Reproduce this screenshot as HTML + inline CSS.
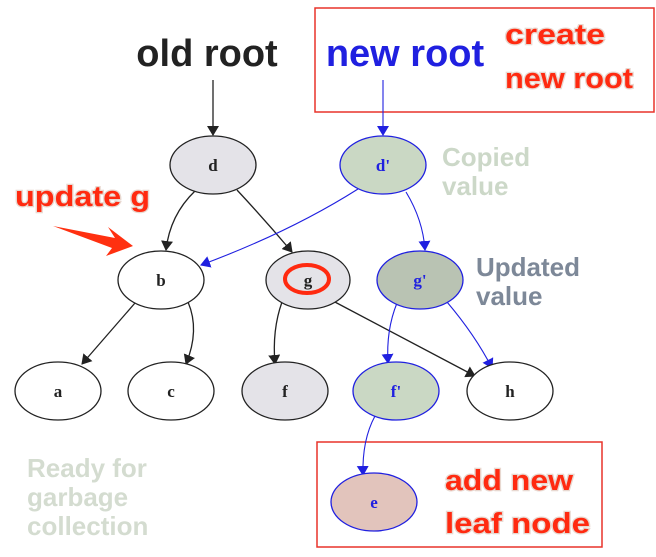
<!DOCTYPE html>
<html><head><meta charset="utf-8"><style>
html,body{margin:0;padding:0;background:#fff;}
svg{display:block;}
.n{font-family:"Liberation Serif",serif;font-size:17px;font-weight:bold;text-anchor:middle;}
.c{font-family:"Liberation Sans",sans-serif;font-weight:bold;}
.r{font-family:"Liberation Sans",sans-serif;font-weight:bold;fill:#ff2a10;stroke:#e8d8d0;stroke-width:2.5;paint-order:stroke;}
</style></head><body>
<svg width="656" height="557" viewBox="0 0 656 557" xmlns="http://www.w3.org/2000/svg">
<defs>
<marker id="ak" markerWidth="10" markerHeight="12" refX="9" refY="6" orient="auto" markerUnits="userSpaceOnUse"><path d="M0,0 L10,6 L0,12 z" fill="#222"/></marker>
<marker id="ab" markerWidth="10" markerHeight="12" refX="9" refY="6" orient="auto" markerUnits="userSpaceOnUse"><path d="M0,0 L10,6 L0,12 z" fill="#2020e0"/></marker>
</defs>
<rect x="315" y="8" width="339" height="104" fill="none" stroke="#e8332a" stroke-width="1.5"/>
<rect x="317" y="442" width="285" height="105" fill="none" stroke="#e8332a" stroke-width="1.5"/>
<text x="207" y="66" class="c" font-size="38" text-anchor="middle" fill="#222">old root</text>
<text x="405" y="66" class="c" font-size="38" text-anchor="middle" fill="#2020e0">new root</text>
<text x="505" y="44" class="r" font-size="29" textLength="100" lengthAdjust="spacingAndGlyphs">create</text>
<text x="505" y="88" class="r" font-size="29" textLength="128" lengthAdjust="spacingAndGlyphs">new root</text>
<text x="15" y="206" class="r" font-size="29" textLength="135" lengthAdjust="spacingAndGlyphs">update g</text>
<path d="M53,226 L115,238 L108,227 L133,246 L106,256 L112,248 Z" fill="#ff3010"/>
<text x="442" y="166" class="c" font-size="26" fill="#ccd8c8">Copied</text>
<text x="442" y="195" class="c" font-size="26" fill="#ccd8c8">value</text>
<text x="476" y="276" class="c" font-size="26" fill="#7d8898">Updated</text>
<text x="476" y="305" class="c" font-size="26" fill="#7d8898">value</text>
<text x="27" y="477" class="c" font-size="26" fill="#d4dcd0">Ready for</text>
<text x="27" y="506" class="c" font-size="26" fill="#d4dcd0">garbage</text>
<text x="27" y="535" class="c" font-size="26" fill="#d4dcd0">collection</text>
<text x="445" y="490" class="r" font-size="29" textLength="128" lengthAdjust="spacingAndGlyphs">add new</text>
<text x="445" y="533" class="r" font-size="29" textLength="145" lengthAdjust="spacingAndGlyphs">leaf node</text>
<g fill="none" stroke="#222" stroke-width="1.3" marker-end="url(#ak)">
<path d="M213,80 L213,135"/>
<path d="M195,191 Q170,215 166,250"/>
<path d="M237,190 Q265,220 292,252"/>
<path d="M135,303 L82,364"/>
<path d="M188,302 Q200,330 186,364"/>
<path d="M282,302 Q272,330 275,364"/>
<path d="M333,301 L475,376"/>
</g>
<g fill="none" stroke="#2020e0" stroke-width="1.1" marker-end="url(#ab)">
<path d="M383,80 L383,135"/>
<path d="M358,189 Q290,232 201,265"/>
<path d="M406,192 Q423,220 425,250"/>
<path d="M397,303 Q386,330 388,363"/>
<path d="M447,302 Q475,335 492,368"/>
<path d="M375,416 Q362,440 363,475"/>
</g>
<g stroke-width="1.3">
<ellipse cx="213" cy="165" rx="43" ry="29" fill="#e4e3e8" stroke="#222"/>
<ellipse cx="383" cy="165" rx="43" ry="29" fill="#cad8c4" stroke="#2020e0"/>
<ellipse cx="161" cy="280" rx="43" ry="29" fill="#fff" stroke="#222"/>
<ellipse cx="308" cy="280" rx="42" ry="29" fill="#e4e3e8" stroke="#222"/>
<ellipse cx="420" cy="280" rx="43" ry="29" fill="#b9c3b3" stroke="#2020e0"/>
<ellipse cx="58" cy="391" rx="43" ry="29" fill="#fff" stroke="#222"/>
<ellipse cx="171" cy="391" rx="43" ry="29" fill="#fff" stroke="#222"/>
<ellipse cx="285" cy="391" rx="43" ry="29" fill="#e4e3e8" stroke="#222"/>
<ellipse cx="396" cy="391" rx="43" ry="29" fill="#cad8c4" stroke="#2020e0"/>
<ellipse cx="510" cy="391" rx="43" ry="29" fill="#fff" stroke="#222"/>
<ellipse cx="374" cy="502" rx="43" ry="29" fill="#e2c4bc" stroke="#2020e0"/>
<ellipse cx="307" cy="279" rx="22" ry="14" fill="none" stroke="#ff2a10" stroke-width="4"/>
</g>
<g class="n">
<text x="213" y="171" fill="#222">d</text>
<text x="383" y="171" fill="#2020e0">d'</text>
<text x="161" y="286" fill="#222">b</text>
<text x="308" y="286" fill="#222">g</text>
<text x="420" y="286" fill="#2020e0">g'</text>
<text x="58" y="397" fill="#222">a</text>
<text x="171" y="397" fill="#222">c</text>
<text x="285" y="397" fill="#222">f</text>
<text x="396" y="397" fill="#2020e0">f'</text>
<text x="510" y="397" fill="#222">h</text>
<text x="374" y="508" fill="#2020e0">e</text>
</g>
</svg>
</body></html>
